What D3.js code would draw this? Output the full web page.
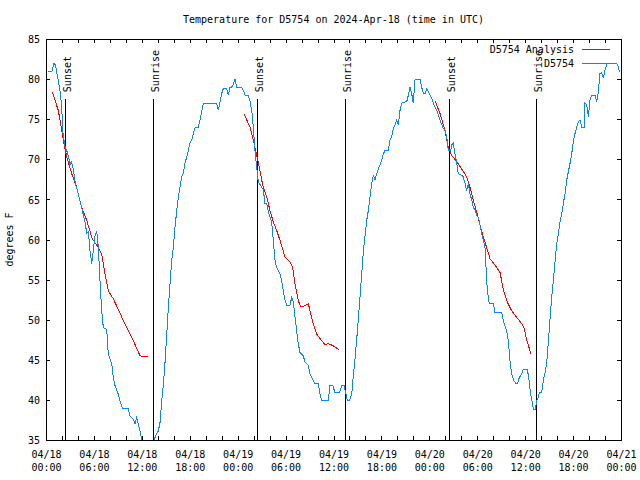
<!DOCTYPE html>
<html>
<head>
<meta charset="utf-8">
<script src="https://cdn.jsdelivr.net/npm/d3@7"></script>
<style>
  html, body { margin: 0; padding: 0; background: #fff; }
  svg { display: block; }
  text { font-family: "DejaVu Sans Mono", "Liberation Mono", monospace; font-size: 10px; fill: #000; }
</style>
</head>
<body>
<svg id="chart" width="640" height="480"></svg>
<script>
// ---------------- data ----------------
const chartTitle = "Temperature for D5754 on 2024-Apr-18 (time in UTC)";
const yAxisLabel = "degrees F";
const startDay = [2024, 3, 18]; // 2024-Apr-18 00:00 UTC
const hoursSpan = 72;
const yTickValues = [35, 40, 45, 50, 55, 60, 65, 70, 75, 80, 85];
const seriesNames = ["D5754 Analysis", "D5754"];

// observed station temperatures (hours after 04/18 00:00 UTC, deg F)
const obsHours = [0.29,0.75,1.00,1.16,1.34,1.75,1.97,2.09,2.25,2.42,2.59,2.84,3.01,3.17,3.42,3.67,4.01,4.35,4.60,4.88,
  5.10,5.30,5.51,5.72,5.92,6.14,6.35,6.55,6.76,6.97,7.18,7.39,7.60,7.80,8.23,8.43,8.64,9.05,9.27,9.60,
  10.31,10.52,10.93,11.14,11.36,11.56,11.77,11.98,12.27,12.77,13.27,13.52,13.86,14.06,14.28,14.49,14.69,14.90,15.11,15.31,
  15.53,15.74,15.94,16.15,16.37,16.57,16.78,16.99,17.19,17.41,17.62,17.82,18.03,18.24,18.44,18.66,19.07,19.28,19.50,19.70,
  21.37,21.58,21.79,22.00,22.20,22.63,22.83,23.04,23.25,23.45,23.67,23.88,24.51,24.71,24.92,25.33,25.55,25.76,25.96,26.17,
  26.38,26.58,26.71,27.21,27.42,27.64,27.84,28.05,28.26,28.46,28.68,28.89,29.30,29.51,29.71,29.93,30.14,30.55,30.77,30.97,
  31.18,31.39,31.59,31.81,32.22,32.43,32.85,33.06,33.27,33.68,34.10,34.31,34.52,35.35,35.56,35.90,36.19,36.73,37.03,37.32,
  37.57,37.73,37.98,38.28,38.48,38.69,38.91,39.11,39.32,39.53,39.73,39.95,40.16,40.36,40.57,40.78,40.98,41.20,41.41,41.61,
  41.82,42.04,42.24,42.45,42.86,43.08,43.29,43.49,43.70,43.92,44.12,44.33,44.54,45.17,45.37,45.58,45.79,45.99,46.21,46.42,
  46.83,47.04,47.25,47.46,47.67,47.87,48.08,48.30,48.50,48.92,49.34,49.67,49.96,50.18,50.38,50.68,50.80,51.00,51.21,51.43,
  51.63,52.05,52.25,52.47,52.68,52.88,53.09,53.31,53.51,53.72,53.93,54.13,54.35,54.56,54.76,54.97,55.10,55.26,55.51,56.01,
  56.22,57.06,57.26,57.69,57.89,58.10,58.32,58.60,58.85,59.02,59.27,59.57,59.77,60.27,60.44,60.69,60.94,61.02,61.27,61.45,
  61.65,61.77,62.07,62.27,62.49,62.70,62.90,63.11,63.32,63.53,63.74,63.95,64.15,64.36,64.58,64.78,64.99,65.20,65.40,65.62,
  65.83,66.03,66.24,66.46,66.66,66.87,67.08,67.37,67.49,67.71,67.91,68.12,68.33,68.75,68.96,69.16,69.37,69.59,69.79,70.00,
  70.29,70.54,71.47,71.67,71.79];
const obsTemps = [81.0,81.0,82.0,81.8,80.9,78.6,76.5,73.6,72.4,71.5,71.1,70.3,69.3,69.7,68.8,67.0,65.8,64.5,63.4,62.2,
  60.8,61.0,58.6,57.0,58.6,60.5,61.1,59.0,54.9,51.1,49.0,48.9,48.8,45.7,44.5,42.8,41.8,40.7,39.9,38.9,
  38.9,38.0,37.6,37.0,37.8,37.0,36.1,35.1,34.5,34.2,34.6,35.0,35.8,36.1,37.2,39.9,41.8,44.6,48.0,51.4,
  54.5,57.4,59.0,61.5,63.6,65.3,66.5,67.8,68.2,69.5,70.3,71.1,72.0,72.4,73.2,73.9,74.0,74.9,75.9,77.0,
  77.0,76.1,77.2,78.2,78.8,78.8,78.0,79.0,79.0,79.3,80.0,79.0,79.0,78.6,78.0,78.0,77.2,76.1,74.0,71.1,
  69.0,67.2,67.0,66.2,64.5,64.5,63.4,62.8,62.2,59.9,57.4,56.5,55.7,54.9,53.6,52.4,51.8,51.8,52.8,52.2,
  50.3,48.6,47.0,45.9,45.5,44.7,44.3,43.2,42.8,42.0,42.0,40.7,39.9,39.9,41.8,41.8,40.9,40.9,41.8,41.8,
  40.7,39.9,39.9,40.7,43.0,45.1,47.6,50.1,52.8,55.7,58.4,60.5,62.4,63.6,65.3,67.0,68.0,67.4,68.2,68.8,
  69.3,69.9,70.7,71.1,71.1,72.4,72.8,73.9,74.3,74.9,74.3,76.1,77.0,77.2,78.0,79.0,78.2,77.0,79.9,80.0,
  80.0,79.0,78.2,78.2,78.8,78.4,78.0,77.6,77.0,76.1,74.9,74.0,73.6,72.8,71.1,71.1,71.8,72.0,70.7,69.5,
  68.2,68.0,67.8,67.0,66.1,67.0,65.7,64.9,64.0,63.7,63.0,62.8,61.8,60.7,59.9,59.0,56.5,53.6,52.0,52.0,
  50.9,50.9,49.9,48.6,47.4,44.9,43.2,42.4,42.0,42.0,42.8,43.2,43.8,43.8,42.8,40.7,39.5,38.8,38.8,39.9,
  40.3,40.9,40.9,42.4,43.4,44.7,47.2,50.1,52.8,54.9,57.2,59.5,60.7,62.2,63.2,64.5,65.7,67.4,68.4,69.5,
  70.7,72.2,73.2,74.0,74.7,74.9,74.0,74.0,77.0,76.8,75.3,77.4,78.0,78.0,77.2,78.4,80.7,80.8,80.1,81.1,
  82.0,82.0,81.9,81.6,80.9];

// analysis runs (three overnight segments)
const anaHours1 = [0.79,1.54,2.25,2.59,3.22,3.84,4.47,5.10,5.72,5.92,6.55,6.97,7.39,7.80,8.43,9.05,9.68,10.31,10.93,11.77,12.18,12.81];
const anaTemps1 = [78.4,76.1,72.0,70.3,68.2,66.5,64.0,62.4,60.3,59.9,59.0,58.2,55.7,53.6,52.6,51.3,49.9,48.6,47.4,45.5,45.4,45.4];
const anaHours2 = [24.79,25.55,25.96,26.38,26.71,27.01,27.21,27.64,28.05,28.46,28.89,29.30,29.93,30.55,30.89,31.18,31.59,31.89,32.43,32.85,33.06,33.47,33.90,34.52,34.94,35.35,35.98,36.73];
const anaTemps2 = [75.7,74.0,72.4,70.5,69.0,67.4,66.5,65.3,63.6,62.2,61.1,59.9,57.8,57.2,56.5,54.5,52.4,51.6,51.75,52.0,51.1,49.5,48.2,47.4,46.9,47.0,46.75,46.2];
const anaHours3 = [48.71,49.34,49.96,50.38,50.80,51.43,52.05,52.68,53.09,53.51,53.93,54.35,54.76,55.18,55.60,56.22,56.85,57.26,57.76,58.32,58.94,59.57,59.86,60.19,60.73];
const anaTemps3 = [77.3,75.7,73.6,71.5,70.5,69.7,68.8,67.8,66.5,64.9,63.4,61.8,60.3,59.0,57.6,56.8,55.9,53.8,52.2,51.1,50.3,49.5,49.0,47.5,45.7];

// sunset / sunrise markers
const sunHours = [2.38, 13.40, 26.48, 37.38, 50.50, 61.30];
const sunLabels = ["Sunset", "Sunrise", "Sunset", "Sunrise", "Sunset", "Sunrise"];
const sunLineTop = 77.5;

// ---------------- drawing ----------------
const W = 640, H = 480;
const plot = { left: 46, right: 621, top: 39, bottom: 440 };
const colors = { analysis: "#ff0000", obs: "#0a84ff" };

const t0 = Date.UTC(startDay[0], startDay[1], startDay[2]);
const toDate = h => new Date(t0 + h * 3600000);

const x = d3.scaleUtc().domain([toDate(0), toDate(hoursSpan)]).range([plot.left, plot.right]);
const y = d3.scaleLinear().domain([35, 85]).range([plot.bottom, plot.top]);

const svg = d3.select("#chart");

svg.append("defs").append("clipPath").attr("id", "clip")
  .append("rect").attr("x", plot.left).attr("y", plot.top)
  .attr("width", plot.right - plot.left).attr("height", plot.bottom - plot.top);

// title
svg.append("text").attr("x", (plot.left + plot.right) / 2).attr("y", 23)
  .attr("text-anchor", "middle").text(chartTitle);

// y label
svg.append("text").attr("transform", `translate(13,${(plot.top + plot.bottom) / 2}) rotate(-90)`)
  .attr("text-anchor", "middle").text(yAxisLabel);

// tick marks (inward) on all four sides
const minorTicks = d3.utcHour.every(2);
const axB = svg.append("g").attr("transform", `translate(0,${plot.bottom})`)
  .call(d3.axisBottom(x).ticks(minorTicks).tickSize(-4).tickFormat(""));
const axT = svg.append("g").attr("transform", `translate(0,${plot.top})`)
  .call(d3.axisTop(x).ticks(minorTicks).tickSize(-4).tickFormat(""));
const axL = svg.append("g").attr("transform", `translate(${plot.left},0)`)
  .call(d3.axisLeft(y).tickValues(yTickValues).tickSize(-4).tickPadding(6));
const axR = svg.append("g").attr("transform", `translate(${plot.right},0)`)
  .call(d3.axisRight(y).tickValues(yTickValues).tickSize(-4).tickFormat(""));
[axB, axT, axL, axR].forEach(g => {
  g.select(".domain").remove();
  g.attr("font-family", null).attr("font-size", null);
  g.selectAll("line").attr("stroke", "#000").attr("shape-rendering", "crispEdges");
  g.selectAll("text").attr("fill", "#000");
});
axL.selectAll("text").attr("dy", "0.36em");

// x labels every 6 hours, two lines
const labelAxis = svg.append("g").attr("transform", `translate(0,${plot.bottom})`)
  .call(d3.axisBottom(x).ticks(d3.utcHour.every(6)).tickSize(0).tickFormat(""));
labelAxis.select(".domain").remove();
labelAxis.attr("font-family", null).attr("font-size", null);
const fmtDate = d3.utcFormat("%m/%d"), fmtTime = d3.utcFormat("%H:%M");
labelAxis.selectAll(".tick").each(function(d) {
  const t = d3.select(this).append("text").attr("text-anchor", "middle").attr("fill", "#000");
  t.append("tspan").attr("x", 0).attr("y", 18).text(fmtDate(d));
  t.append("tspan").attr("x", 0).attr("y", 31).text(fmtTime(d));
});

// frame
svg.append("rect").attr("x", plot.left).attr("y", plot.top)
  .attr("width", plot.right - plot.left).attr("height", plot.bottom - plot.top)
  .attr("fill", "none").attr("stroke", "#000").attr("shape-rendering", "crispEdges");

// sunrise / sunset lines
const sun = svg.append("g").selectAll("g").data(sunHours.map((h, i) => ({ h, label: sunLabels[i] })))
  .join("g");
sun.append("line")
  .attr("x1", d => Math.round(x(toDate(d.h))) + 0.5).attr("x2", d => Math.round(x(toDate(d.h))) + 0.5)
  .attr("y1", y(sunLineTop)).attr("y2", y(35))
  .attr("stroke", "#000").attr("stroke-width", 1).attr("shape-rendering", "crispEdges");
sun.append("text")
  .attr("transform", d => `translate(${Math.round(x(toDate(d.h))) + 6},${y(sunLineTop) - 7}) rotate(-90)`)
  .attr("text-anchor", "start").text(d => d.label);

// series
const line = d3.line().x(d => x(toDate(d[0]))).y(d => y(d[1]));
const dataG = svg.append("g").attr("clip-path", "url(#clip)");
const anaSegments = [[anaHours1, anaTemps1], [anaHours2, anaTemps2], [anaHours3, anaTemps3]];
anaSegments.forEach(([hs, ts]) => {
  dataG.append("path").datum(hs.map((h, i) => [h, ts[i]]))
    .attr("d", line).attr("fill", "none").attr("stroke", colors.analysis)
    .attr("stroke-width", 1).attr("shape-rendering", "crispEdges");
});
dataG.append("path").datum(obsHours.map((h, i) => [h, obsTemps[i]]))
  .attr("d", line).attr("fill", "none").attr("stroke", colors.obs)
  .attr("stroke-width", 1).attr("shape-rendering", "crispEdges");

// legend
const legend = svg.append("g");
const legendItems = [{ name: seriesNames[0], color: colors.analysis, yc: 49 },
                     { name: seriesNames[1], color: colors.obs, yc: 63 }];
legendItems.forEach(it => {
  legend.append("text").attr("x", 574).attr("y", it.yc).attr("dy", "0.36em")
    .attr("text-anchor", "end").text(it.name);
  legend.append("line").attr("x1", 582).attr("x2", 610).attr("y1", it.yc + 0.5).attr("y2", it.yc + 0.5)
    .attr("stroke", it.color).attr("stroke-width", 1).attr("shape-rendering", "crispEdges");
});
</script>
</body>
</html>
